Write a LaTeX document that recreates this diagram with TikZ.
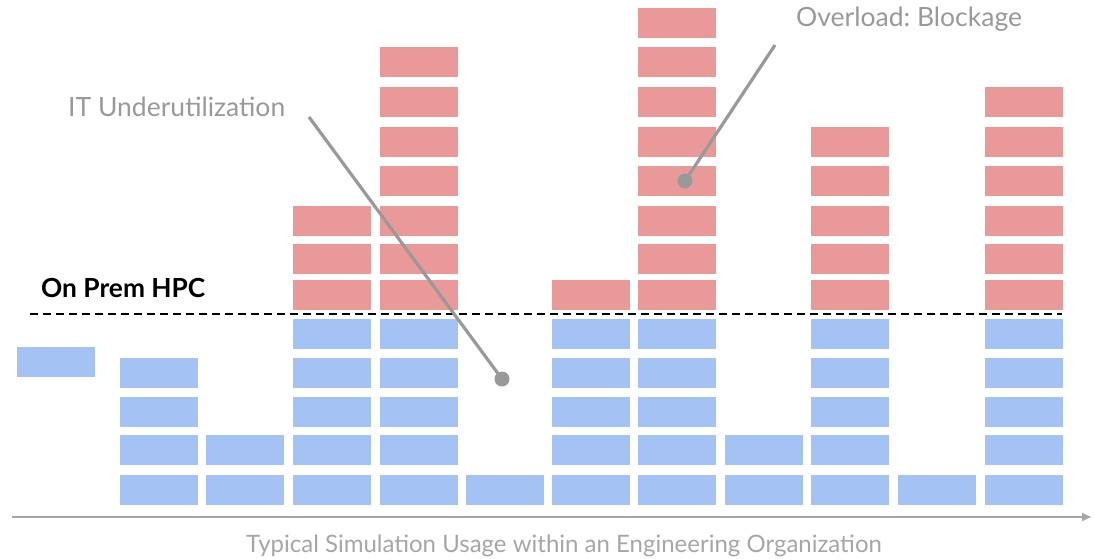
\documentclass[tikz,border=0pt]{standalone}
\usepackage{fontspec}
\setmainfont{Lato}
\frenchspacing
\usetikzlibrary{arrows.meta}
\definecolor{overload}{HTML}{EA9999}
\definecolor{usage}{HTML}{A4C2F4}
\definecolor{note}{HTML}{999999}
\definecolor{axisgray}{HTML}{A6A6A6}
\tikzset{
  blk/.style={rectangle, inner sep=0pt, minimum width=78pt, minimum height=30pt, draw=none},
  usageblk/.style={blk, fill=usage},
  overblk/.style={blk, fill=overload},
  notetext/.style={text=note, font=\fontsize{26.5}{30}\selectfont, inner sep=0pt},
  pointer/.style={draw=note, line width=3.2pt},
  pointerdot/.style={circle, fill=note, inner sep=0pt, minimum size=15pt},
  capacity/.style={draw=black, line width=2pt, dash pattern=on 8pt off 5pt},
}
\begin{document}
\begin{tikzpicture}[x=1pt, y=-1pt]
\useasboundingbox (0,0) rectangle (1094,558);

% stacked usage columns: left x / blue count / red count
\foreach \x/\nb/\nr [count=\i] in {120/4/0, 206/2/0, 293/5/3, 380/5/7, 466/1/0,
    552/5/1, 638/5/8, 725/2/0, 811/5/5, 898/1/0, 985/5/6} {
  \foreach \r in {1,...,\nb} {
    \pgfmathsetmacro{\top}{{475,435,397,358,319}[\r-1]}
    \node[usageblk] (u\i-\r) at (\x+39, \top+15) {};
  }
  \ifnum\nr>0
    \foreach \r in {1,...,\nr} {
      \pgfmathsetmacro{\top}{{280,244,206,166,127,87,47,8}[\r-1]}
      \node[overblk] (o\i-\r) at (\x+39, \top+15) {};
    }
  \fi
}

% single block on the left
\node[usageblk] (single) at (56,362) {};

% capacity line
\coordinate (cap-start) at (30,313.5);
\coordinate (cap-end) at (1062,313.5);
\draw[capacity] (cap-start) -- (cap-end);
\node[anchor=base west, inner sep=0pt, font=\fontsize{26.3}{30}\selectfont\bfseries] (hpc) at (41,297) {On Prem HPC};

% horizontal axis
\coordinate (axis-start) at (12,517);
\coordinate (axis-end) at (1091,517);
\draw[axisgray, line width=2pt, -{Triangle[length=9pt, width=8pt]}] (axis-start) -- (axis-end);
\node[anchor=base, text=axisgray, inner sep=0pt, font=\fontsize{24}{28}\selectfont] (axis-label) at (564,552) {Typical Simulation Usage within an Engineering Organization};

% annotations
\node[notetext, anchor=base west] (under-label) at (68,116) {IT Underutilization};
\coordinate (under-from) at (309,117);
\node[pointerdot] (under-dot) at (502,379) {};
\draw[pointer] (under-from) -- (under-dot.center);

\node[notetext, anchor=base west] (over-label) at (796,26) {Overload: Blockage};
\coordinate (over-from) at (775,45);
\node[pointerdot] (over-dot) at (685,181) {};
\draw[pointer] (over-from) -- (over-dot.center);
\end{tikzpicture}
\end{document}
